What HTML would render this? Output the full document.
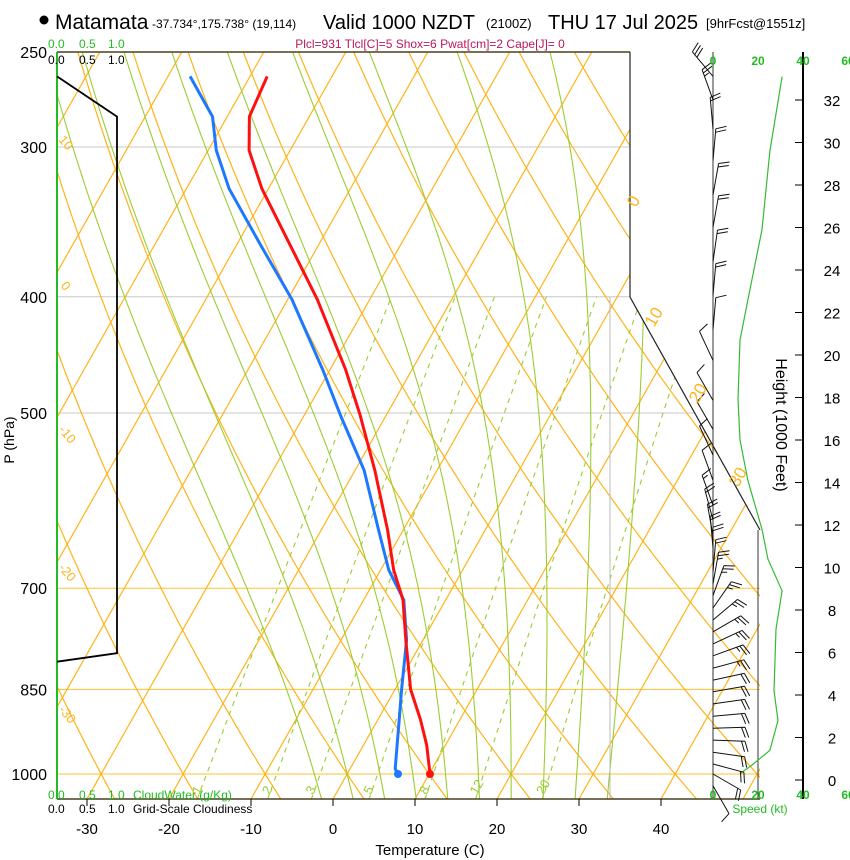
<!DOCTYPE html>
<html><head><meta charset="utf-8"><style>
body{margin:0;background:#fff;overflow:hidden;}
svg{display:block;font-family:"Liberation Sans",sans-serif;}
</style></head><body>
<div style="position:relative;width:850px;height:860px;overflow:hidden">
<svg id="chart" width="850" height="860" viewBox="0 0 850 860" style="position:absolute;left:0;top:0">
<defs><clipPath id="clip"><polygon points="57,52 630,52 630,297 760,530 760,799 57,799"/></clipPath></defs>
<g>
<circle cx="44" cy="20" r="4.5" fill="#000"/>
<text x="55" y="29" font-size="21">Matamata</text>
<text x="152" y="28" font-size="12">-37.734°,175.738° (19,114)</text>
<text x="323" y="29" font-size="20">Valid 1000 NZDT</text>
<text x="486" y="28" font-size="13">(2100Z)</text>
<text x="548" y="29" font-size="20">THU 17 Jul 2025</text>
<text x="706" y="28" font-size="13">[9hrFcst@1551z]</text>
</g>
<text x="430" y="48" font-size="12" fill="#b8185a" text-anchor="middle">Plcl=931 Tlcl[C]=5 Shox=6 Pwat[cm]=2 Cape[J]= 0</text>
<g id="bg" clip-path="url(#clip)"></g>
<g id="fg"></g>
<g font-size="13" fill="#ffb31a">
<text transform="translate(58,140) rotate(50)">10</text>
<text transform="translate(60,286) rotate(50)">0</text>
<text transform="translate(58,430) rotate(50)">-10</text>
<text transform="translate(58,568) rotate(50)">-20</text>
<text transform="translate(58,710) rotate(50)">-30</text>
</g>
<g font-size="17" fill="#ffb31a">
<text transform="translate(636,208) rotate(-60)">0</text>
<text transform="translate(654,328) rotate(-60)">10</text>
<text transform="translate(698,404) rotate(-60)">20</text>
<text transform="translate(738,488) rotate(-60)">30</text>
</g>
<g font-size="12">
<text x="48" y="48" fill="#22bb22">0.0</text><text x="79" y="48" fill="#22bb22">0.5</text><text x="108" y="48" fill="#22bb22">1.0</text>
<text x="48" y="64">0.0</text><text x="79" y="64">0.5</text><text x="108" y="64">1.0</text>
<text x="48" y="799" fill="#22bb22">0.0</text><text x="79" y="799" fill="#22bb22">0.5</text><text x="108" y="799" fill="#22bb22">1.0</text>
<text x="133" y="799" fill="#22bb22">CloudWater (g/Kg)</text>
<text x="48" y="813">0.0</text><text x="79" y="813">0.5</text><text x="108" y="813">1.0</text>
<text x="133" y="813">Grid-Scale Cloudiness</text>
</g>
<g font-size="12" font-weight="bold" fill="#22bb22" text-anchor="middle">
<text x="713" y="65">0</text><text x="758" y="65">20</text><text x="803" y="65">40</text><text x="848" y="65">60</text>
<text x="713" y="799">0</text><text x="758" y="799">20</text><text x="803" y="799">40</text><text x="848" y="799">60</text>
</g>
<text x="760" y="813" font-size="12" fill="#22bb22" text-anchor="middle">Speed (kt)</text>
<text x="430" y="855" font-size="15" text-anchor="middle">Temperature (C)</text>
<text transform="translate(14,440) rotate(-90)" font-size="14" text-anchor="middle">P (hPa)</text>
<text transform="translate(776,425) rotate(90)" font-size="16" text-anchor="middle">Height (1000 Feet)</text>
</svg>
</div>
<script>
// ---- data ----
const tempP = [262,283,302,325,362,402,460,502,558,626,676,716,773,850,901,946,1000];
const tempT = [-57.9,-57.3,-55.0,-50.8,-43.5,-36.4,-28.1,-23.2,-17.6,-11.9,-8.4,-5.2,-2.1,1.9,5.2,7.7,10.1];
const dewP = [262,283,302,325,362,402,460,502,558,626,676,716,773,850,901,946,990,1000];
const dewT = [-67.3,-61.8,-59.0,-54.8,-47.1,-39.5,-30.9,-25.6,-18.9,-13.0,-9.0,-5.1,-2.0,0.8,2.6,4.1,5.5,6.2];
const cloudP = [262,283,793,806];
const cloudFrac = [0,1,1,0];
const speedH = [33.1,29.6,25.9,22.6,20.7,17.9,16.0,14.1,11.8,10.4,8.9,7.1,4.2,2.8,1.4,0.7,0.3];
const speedKt = [30.7,25.3,21.8,15.5,12.0,11.1,12.0,15.5,21.8,24.4,30.7,28.0,27.1,28.9,25.3,17.3,12.0];
const barbP = [262,274,290,308,329,350,374,399,426,452,488,516,542,569,597,614,633,648,662,678,694,710,727,744,761,779,797,816,835,854,874,895,916,937,959,981,1000,1023];
const barbDir = [320,340,355,5,10,10,8,5,5,335,330,330,335,340,340,345,350,355,0,5,10,20,35,50,60,65,70,75,78,80,82,85,88,92,98,105,120,150];
const barbSpd = [30,28,25,25,25,25,22,20,15,12,12,12,13,15,18,20,22,24,25,26,28,28,28,28,28,28,28,28,27,27,27,27,27,27,26,25,20,15];
const pressLevels = [300,400,500,700,850,1000];
const pressLabels = ["250","300","400","500","700","850","1000"];
const tempTicks = [-30,-20,-10,0,10,20,30,40];
const heightTicks = [0,2,4,6,8,10,12,14,16,18,20,22,24,26,28,30,32];
const mixRatios = [1,2,3,5,8,12,20];
const moistThetaW = [-4,0,4,8,12,16,20,24,28,32];

// ---- axes ----
const yP = p => 774 + 520.8*Math.log(p/1000);
const xT = (t,y) => 333 + 8.2*t + (799-y)*0.566;
const yH = h => 780 - 21.25*h;
const xS = s => 713 + s*2.25;
const xC = c => 57 + c*60;
const NS='http://www.w3.org/2000/svg';
const bg=document.getElementById('bg'), fg=document.getElementById('fg');
function el(tag, attrs, parent){const e=document.createElementNS(NS,tag);for(const k in attrs)e.setAttribute(k,attrs[k]);parent.appendChild(e);return e;}
function ptsPT(ps,ts){return ps.map((p,i)=>{const y=yP(p);return xT(ts[i],y).toFixed(1)+','+y.toFixed(1);}).join(' ');}

pressLevels.forEach(p=>{const y=yP(p);const orange=p>=700;
 const l=el('line',{x1:57,x2:760,y1:y,y2:y,stroke:orange?'#ffc030':'#c8c8c8','stroke-width':1},bg);
 
 
});
for(let t=-130;t<=60;t+=10){
 const l=el('line',{x1:xT(t,799),y1:799,x2:xT(t,52),y2:52,stroke:'#ffb31a','stroke-width':1.2},bg);
 
 
}
for(let th=-40;th<=200;th+=10){
 const pts=[];for(let p=1050;p>=240;p-=10){const t=(th+273.15)*Math.pow(p/1000,0.286)-273.15;const y=yP(p);pts.push(xT(t,y).toFixed(1)+','+y.toFixed(1));}
 const l=el('polyline',{points:pts.join(' '),fill:'none',stroke:'#ffb31a','stroke-width':1.2},bg);
 
 
}
function es(tc){return 6.112*Math.exp(17.67*tc/(tc+243.5));}
function dTdp(T,p){const tc=T-273.15,e=es(tc),rs=0.622*e/(p-e),Rd=287,cp=1005,Lv=2.5e6;
 return (Rd*T+Lv*rs)/(p*(cp+Lv*Lv*rs*0.622/(Rd*T*T)));}
moistThetaW.forEach(tw=>{
 const pts=[];let T=tw+273.15;
 let T2=T;for(let p=1000;p<1050;p+=5){T2+=dTdp(T2,p)*5;}
 pts.push(xT(T2-273.15,yP(1050)).toFixed(1)+','+yP(1050).toFixed(1));
 for(let p=1000;p>=245;p-=5){const y=yP(p);pts.push(xT(T-273.15,y).toFixed(1)+','+y.toFixed(1));T-=dTdp(T,p)*5;}
 const l=el('polyline',{points:pts.join(' '),fill:'none',stroke:'#9acd32','stroke-width':1.1},bg);
 
 
});
mixRatios.forEach(w=>{
 const pts=[];for(let p=1050;p>=400;p-=10){const e=(w/1000)*p/(0.622+w/1000),L=Math.log(e/6.112),tc=243.5*L/(17.67-L),y=yP(p);pts.push(xT(tc,y).toFixed(1)+','+y.toFixed(1));}
 const l=el('polyline',{points:pts.join(' '),fill:'none',stroke:'#9acd32','stroke-width':1.1,'stroke-dasharray':'5,5'},bg);
 
 
 const e=(w/1000)*1030/(0.622+w/1000),L=Math.log(e/6.112),tc=243.5*L/(17.67-L);const yy=yP(1030);
 const t=el('text',{x:xT(tc,yy)-2,y:yy+6,'font-size':13,fill:'#9acd32',transform:`rotate(-60 ${xT(tc,yy)-2} ${yy+6})`},fg);
 t.textContent=w;
 
 
});
el('line',{x1:610,y1:297,x2:610,y2:799,stroke:'#bbb','stroke-width':1},bg);

el('line',{x1:57,y1:52,x2:630,y2:52,stroke:'#4a4020','stroke-width':1.5},fg);
el('polyline',{points:'630,52 630,297 760,530',fill:'none',stroke:'#222','stroke-width':1.2},fg);
el('line',{x1:57,y1:799,x2:760,y2:799,stroke:'#4a4020','stroke-width':1.5},fg);
el('line',{x1:57,y1:52,x2:57,y2:799,stroke:'#22bb22','stroke-width':2},fg);
el('line',{x1:713,y1:52,x2:713,y2:799,stroke:'#333','stroke-width':1},fg);
el('line',{x1:758,y1:530,x2:758,y2:799,stroke:'#333','stroke-width':1},fg);
el('line',{x1:803,y1:52,x2:803,y2:799,stroke:'#000','stroke-width':2},fg);

{const l=el('polyline',{points:cloudP.map((p,i)=>xC(cloudFrac[i])+','+yP(p).toFixed(1)).join(' '),fill:'none',stroke:'#000','stroke-width':1.8},fg);
 
 }

{const l=el('polyline',{points:ptsPT(dewP,dewT),fill:'none',stroke:'#1e78ff','stroke-width':3,'stroke-linejoin':'round'},fg);
 
 
 const y=yP(1000);const c=el('circle',{cx:xT(dewT[dewT.length-1],y),cy:y,r:4,fill:'#1e78ff'},fg);
 
 }
{const l=el('polyline',{points:ptsPT(tempP,tempT),fill:'none',stroke:'#ff1010','stroke-width':3,'stroke-linejoin':'round'},fg);
 
 
 const y=yP(1000);const c=el('circle',{cx:xT(tempT[tempT.length-1],y),cy:y,r:4,fill:'#ff1010'},fg);
 
 }

{const l=el('polyline',{points:speedH.map((h,i)=>xS(speedKt[i]).toFixed(1)+','+yH(h).toFixed(1)).join(' '),fill:'none',stroke:'#33bb33','stroke-width':1.2},fg);
 
 }

barbP.forEach((p,i)=>{
 const y=yP(p),d=barbDir[i]*Math.PI/180,L=32,ux=Math.sin(d),uy=-Math.cos(d);
 const ex=713+L*ux,ey=y+L*uy;
 let path=`M713,${y.toFixed(1)}L${ex.toFixed(1)},${ey.toFixed(1)}`;
 let s=barbSpd[i],pos=0;
 const bx=Math.sin(d+Math.PI*0.4)*11,by=-Math.cos(d+Math.PI*0.4)*11;
 while(s>=7.5){const px=ex-ux*pos,py=ey-uy*pos;const len=s>=10?1:0.5;
  path+=`M${px.toFixed(1)},${py.toFixed(1)}l${(bx*len).toFixed(1)},${(by*len).toFixed(1)}`;s-=10;pos+=3.5;}
 const g=el('path',{d:path,fill:'none',stroke:'#111','stroke-width':1},fg);
 
 
});

[250,300,400,500,700,850,1000].forEach((p,i)=>{
 const t=el('text',{x:47,y:yP(p)+6,'font-size':16,'text-anchor':'end'},fg);t.textContent=pressLabels[i];
 
 
});
tempTicks.forEach(t=>{const x=xT(t,799);
 el('line',{x1:x,x2:x,y1:799,y2:806,stroke:'#000'},fg);
 const tx=el('text',{x:x,y:834,'font-size':15,'text-anchor':'middle'},fg);tx.textContent=t;
 
 
});
heightTicks.forEach(h=>{const y=yH(h);
 el('line',{x1:795,x2:803,y1:y,y2:y,stroke:'#000'},fg);
 const tx=el('text',{x:832,y:y+6,'font-size':15,'text-anchor':'middle'},fg);tx.textContent=h;
 
 
});
</script>
</body></html>
